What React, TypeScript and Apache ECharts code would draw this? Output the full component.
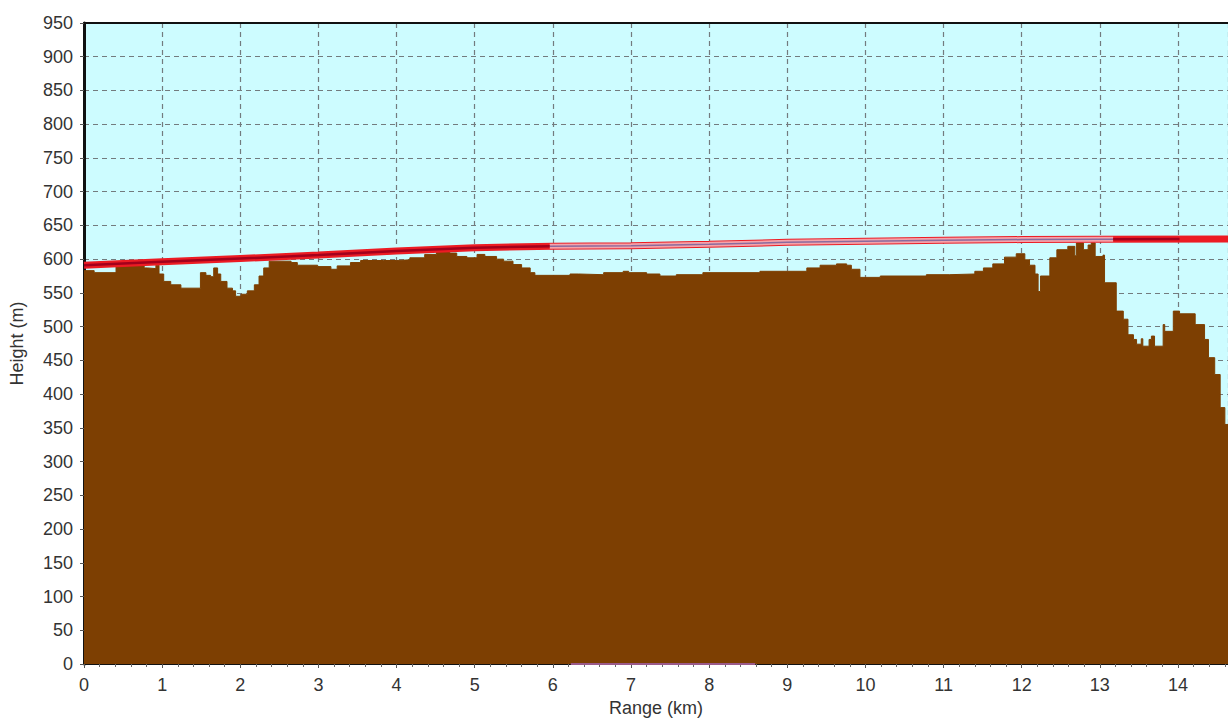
import React, { useEffect, useRef } from "react";
import * as echarts from "echarts";

// Terrain profile: each height holds from its range until the next range (step)
const rangeKm = [
  0.0, 0.13, 0.41, 0.77, 0.81, 0.92, 0.96, 1.02, 1.11, 1.24, 1.49, 1.56, 1.62, 1.66, 1.71, 1.75, 1.83, 1.9, 1.94,
  2.01, 2.09, 2.18, 2.24, 2.3, 2.37, 2.65, 2.73, 2.99, 3.16, 3.24, 3.41, 3.54, 3.83, 4.0, 4.17, 4.36, 4.51, 4.68,
  4.77, 4.9, 5.03, 5.13, 5.28, 5.37, 5.49, 5.6, 5.71, 5.77, 6.22, 6.33, 6.65, 6.9, 6.97, 7.2, 7.37, 7.58, 7.92,
  8.65, 9.25, 9.42, 9.63, 9.76, 9.82, 9.93, 10.19, 10.78, 11.08, 11.4, 11.51, 11.63, 11.78, 11.93, 12.04, 12.1,
  12.17, 12.21, 12.24, 12.36, 12.45, 12.59, 12.68, 12.7, 12.79, 12.85, 12.89, 12.94, 13.04, 13.06, 13.21, 13.3,
  13.36, 13.43, 13.47, 13.53, 13.55, 13.63, 13.66, 13.7, 13.81, 13.83, 13.94, 14.02, 14.22, 14.34, 14.39, 14.47,
  14.54, 14.6, 14.64,
];
const heightM = [
  583, 580, 593, 587, 586, 591, 578, 567, 562, 557, 580, 576, 574, 587, 578, 567, 557, 553, 545,
  548, 553, 562, 575, 587, 597, 595, 591, 589, 585, 590, 595, 598, 598, 599, 602, 607, 613, 609,
  604, 602, 607, 604, 600, 597, 592, 587, 580, 576, 578, 577, 580, 582, 580, 578, 575, 577, 580,
  582, 587, 591, 593, 591, 585, 573, 575, 577, 578, 582, 587, 593, 603, 608, 599, 591,
  578, 552, 575, 602, 614, 619, 605, 624, 614, 621, 624, 604, 606, 565, 523, 511,
  488, 481, 474, 482, 471, 481, 486, 471, 503, 493, 523, 519, 503, 481, 454, 429,
  380, 355, 355,
];

// Line of sight
const losKm = [0, 1, 2, 3, 4, 5, 6, 7, 8, 9, 10, 11, 12, 13, 14.64];
const losH = [591, 596, 601, 606, 612, 617, 619, 620, 622, 625, 626.5, 628, 629, 629.5, 630];

// Pink (Fresnel-like) band section of the link line
const bandKm = [5.96, 7, 8, 9, 10, 11, 12, 13, 13.17];
const bandH = [619, 620, 622, 625, 626.5, 628, 629, 629.5, 629.5];

// Dark red core sections
const coreLeftKm = [0, 1, 2, 3, 4, 5, 5.96];
const coreLeftH = [591, 596, 601, 606, 612, 617, 619];
const coreRightKm = [13.17, 14.02];
const coreRightH = [629.5, 630];

// Purple marker on the ground line
const markKm = [6.23, 8.59];
const markH = [0, 0];

const xTicks = [0, 1, 2, 3, 4, 5, 6, 7, 8, 9, 10, 11, 12, 13, 14];
const X_MAX = 14.64;

const zip = (a: number[], b: number[]) => a.map((v, i) => [v, b[i]]);

export default function App() {
  const ref = useRef<HTMLDivElement>(null);
  useEffect(() => {
    if (!ref.current) return;
    const chart = echarts.init(ref.current, null, { renderer: "svg" });
    const font = "'Liberation Sans', Arial, sans-serif";
    const labelColor = "#333333";
    const gridLine = { show: true, lineStyle: { color: "#737b7e", type: [5, 4], width: 1.2 } };
    chart.setOption({
      animation: false,
      grid: {
        left: 84,
        right: 0,
        top: 23,
        bottom: 57,
        show: true,
        backgroundColor: "#cdfcff",
        borderWidth: 0,
      },
      xAxis: [
        {
          type: "value",
          min: 0,
          max: X_MAX,
          interval: 1,
          name: "Range (km)",
          nameLocation: "middle",
          nameGap: 35,
          nameTextStyle: { fontSize: 18, color: labelColor, fontFamily: font },
          axisLine: { show: true, onZero: false, lineStyle: { color: "#111", width: 2 } },
          axisTick: { show: true, length: 4, lineStyle: { color: "#555" } },
          minorTick: { show: true, splitNumber: 5, length: 3, lineStyle: { color: "#666" } },
          axisLabel: {
            fontSize: 18,
            color: labelColor,
            fontFamily: font,
            margin: 12,
            showMaxLabel: false,
            formatter: (v: number) => (xTicks.includes(v) ? String(v) : ""),
          },
          splitLine: gridLine,
        },
        {
          type: "value",
          position: "top",
          min: 0,
          max: X_MAX,
          axisLine: { show: true, onZero: false, lineStyle: { color: "#111", width: 2 } },
          axisTick: { show: false },
          axisLabel: { show: false },
          splitLine: { show: false },
        },
      ],
      yAxis: {
        type: "value",
        min: 0,
        max: 950,
        interval: 50,
        name: "Height (m)",
        nameLocation: "middle",
        nameRotate: 90,
        nameGap: 58,
        nameTextStyle: { fontSize: 18, color: labelColor, fontFamily: font },
        axisLine: { show: true, onZero: false, lineStyle: { color: "#111", width: 3 } },
        axisTick: { show: true, length: 4, lineStyle: { color: "#555" } },
        axisLabel: { fontSize: 18, color: labelColor, fontFamily: font, margin: 11 },
        splitLine: gridLine,
      },
      series: [
        {
          name: "Terrain",
          type: "line",
          step: "end",
          symbol: "none",
          data: zip(rangeKm, heightM),
          lineStyle: { color: "#7d3f02", width: 1 },
          areaStyle: { color: "#7d3f02", opacity: 1 },
          z: 2,
        },
        {
          name: "Marker",
          type: "line",
          symbol: "none",
          data: zip(markKm, markH),
          lineStyle: { color: "#9a5a8a", width: 2 },
          z: 3,
        },
        {
          name: "Line of sight",
          type: "line",
          symbol: "none",
          data: zip(losKm, losH),
          lineStyle: { color: "#ec1c24", width: 7 },
          z: 4,
        },
        {
          name: "Band",
          type: "line",
          symbol: "none",
          data: zip(bandKm, bandH),
          lineStyle: { color: "#f4a3ab", width: 5 },
          z: 5,
        },
        {
          name: "Band core",
          type: "line",
          symbol: "none",
          data: zip(bandKm, bandH),
          lineStyle: { color: "#8a6a9e", width: 1.5 },
          z: 6,
        },
        {
          name: "Core left",
          type: "line",
          symbol: "none",
          data: zip(coreLeftKm, coreLeftH),
          lineStyle: { color: "#a3001c", width: 2.5 },
          z: 6,
        },
        {
          name: "Core right",
          type: "line",
          symbol: "none",
          data: zip(coreRightKm, coreRightH),
          lineStyle: { color: "#a3001c", width: 2.5 },
          z: 6,
        },
      ],
    });
    return () => chart.dispose();
  }, []);
  return (
    <div
      ref={ref}
      style={{ position: "absolute", left: 0, top: 0, width: 1228, height: 722, background: "#fff" }}
    />
  );
}
